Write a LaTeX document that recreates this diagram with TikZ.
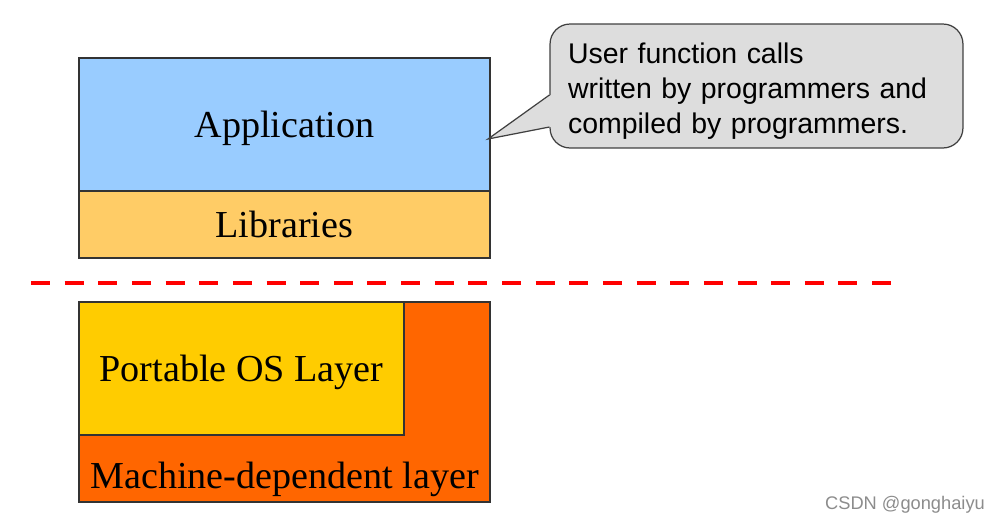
\documentclass[tikz,border=0pt]{standalone}
\usepackage{fontspec}
\setmainfont{Liberation Serif}
\setsansfont{Liberation Sans}
\usetikzlibrary{calc}
\definecolor{appblue}{HTML}{99CCFF}
\definecolor{libgold}{HTML}{FFCC66}
\definecolor{osyellow}{HTML}{FFCC00}
\definecolor{machorange}{HTML}{FF6600}
\definecolor{notegray}{HTML}{DDDDDD}
\begin{document}
\begin{tikzpicture}[
		x=0.02cm, y=-0.02cm,
		layertext/.style={inner sep=0pt, text height=14.8pt, text depth=0pt, font=\fontsize{21.7}{26}\selectfont},
		layer/.style={layertext, draw=black!80, line width=0.8pt, minimum width=8.22cm},
		note/.style={draw=black!75, line width=0.7pt, fill=notegray, rounded corners=0.4cm, minimum width=8.26cm, minimum height=2.48cm, text width=7.54cm, inner xsep=0.36cm, align=left, font=\sffamily\fontsize{16.2}{19.8}\selectfont},
		cutline/.style={red, line width=0.09cm, dash pattern=on 0.38cm off 0.293cm}
		]
		\useasboundingbox (0,0) rectangle (998,525);
		
		% Upper layers
		\node[layer, fill=appblue, minimum height=2.66cm] (app) at (284.5,124.5) {Application};
		\node[layer, fill=libgold, minimum height=1.34cm] (lib) at (284.5,224.5) {Libraries};
		
		% Callout
		\node[note] (callout) at (756.5,86) {\rule{0pt}{17.6pt}User function calls\\written by programmers and\\compiled by programmers.};
		\coordinate (tip) at (488,139);
		\fill[notegray] ($(callout.west)+(1.5,9)$) -- (tip) -- ($(callout.west)+(1.5,41)$) -- cycle;
		\draw[black!75, line width=0.7pt] ($(callout.west)+(0,9)$) -- (tip) -- ($(callout.west)+(0,41)$);
		
		% Dividing line
		\coordinate (cutL) at (31,283);
		\coordinate (cutR) at (891,283);
		\draw[cutline] (cutL) -- (cutR);
		
		% Lower layers
		\node[layer, fill=machorange, minimum height=4cm] (mach) at (284.5,402) {};
		\node[layertext] (machtext) at ($(mach.south)+(0,-27)$) {Machine-dependent layer};
		\node[layer, fill=osyellow, minimum width=6.5cm, minimum height=2.66cm] (os) at (241.5,368.5) {Portable OS Layer};
		
		% Watermark
		\node[font=\sffamily\fontsize{10.4}{12}\selectfont, text=black!45] (mark) at (905,505) {CSDN @gonghaiyu};
		
	\end{tikzpicture}
\end{document}
